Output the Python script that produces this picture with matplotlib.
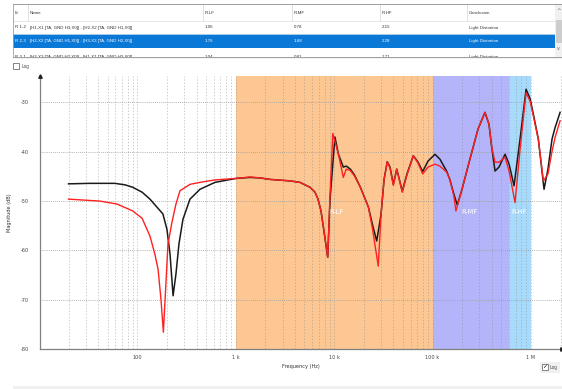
import matplotlib
matplotlib.use("Agg")
import matplotlib.pyplot as plt
from matplotlib.patches import Rectangle
import numpy as np

# ---------------- data ----------------
freq_black = [20, 33, 59, 75, 90, 112, 134.5, 158, 182, 200, 215, 231, 247, 265, 291, 343, 434, 616,
              1007, 1396, 1766, 2233, 3565, 4500, 5690, 6400, 6860, 7360, 7890, 8610, 9100, 10200,
              11070, 12400, 13300, 14600, 16100, 18500, 22300, 24500, 27100, 30000, 32200, 34700,
              37000, 40000, 43300, 49300, 55000, 63800, 71300, 79500, 90000, 106000, 119000, 139000,
              150000, 165000, 178600, 199500, 240000, 290000, 341000, 375000, 400000, 432000, 474000,
              546000, 600000, 674000, 776000, 893000, 984000, 1060000, 1190000, 1360000, 1490000,
              1640000, 1760000, 1980000]
mag_black = [-46.5, -46.4, -46.4, -46.7, -47.2, -48.2, -49.6, -51.2, -52.6, -55.7, -60.7, -69.2, -64.8,
             -58.7, -53.7, -49.6, -47.6, -46.2,
             -45.4, -45.2, -45.3, -45.6, -45.9, -46.2, -47.2, -48.2, -49.6, -52.0, -56.1, -61.4, -49.6,
             -37.0, -40.5, -43.1, -42.9, -43.5, -44.7, -47.2, -51.2, -54.7, -58.1, -52.7, -45.6, -42.0,
             -43.1, -46.6, -43.5, -48.0, -44.5, -40.8, -42.1, -44.0, -41.9, -40.5, -41.5, -43.9,
             -45.6, -48.6, -50.8, -47.6, -41.5, -35.4, -32.0, -34.4, -39.1, -43.9, -43.1,
             -40.5, -42.5, -46.9, -37.4, -27.3, -29.3, -32.4, -37.4, -47.6, -43.5,
             -37.4, -35.1, -32.0]

freq_red = [20, 41.8, 62.2, 90, 112, 134.5, 151, 162.5, 174, 184, 194, 205, 225, 247, 271.5, 343, 434,
            616, 1007, 1396, 1766, 2233, 3565, 4500, 5690, 6400, 6860, 7360, 7890, 8610, 9100, 9700,
            11070, 12400, 13300, 14600, 16100, 18500, 22300, 24500, 28100, 30000, 32200, 34700,
            37000, 40000, 43300, 49300, 55000, 63800, 71300, 79500, 90000, 106000, 119000, 139000,
            150000, 165000, 173000, 199500, 240000, 290000, 341000, 375000, 400000, 432000, 474000,
            546000, 600000, 690000, 776000, 893000, 984000, 1060000, 1190000, 1340000, 1490000,
            1640000, 1760000, 1980000]
mag_red = [-49.6, -50.0, -50.6, -52.0, -53.5, -57.1, -60.8, -63.8, -69.9, -76.6, -67.9, -58.7, -54.3,
           -50.6, -47.9, -46.6, -46.2,
           -45.7, -45.4, -45.1, -45.3, -45.6, -45.9, -46.2, -47.2, -48.2, -49.6, -52.0, -56.1, -61.4,
           -48.5, -36.3,
           -40.5, -45.2, -43.5, -43.8, -44.9, -47.2, -51.2, -55.5, -63.2, -52.7, -45.6, -42.0,
           -43.3, -46.8, -43.5, -48.2, -44.7, -40.8, -42.3, -44.5, -43.1, -42.5, -42.9, -44.1,
           -45.6, -49.0, -52.0, -47.6, -41.5, -35.4, -32.0, -34.4, -39.1, -42.1, -42.1,
           -41.1, -43.9, -50.3, -39.5, -28.0, -29.8, -32.8, -37.5, -45.9, -44.5,
           -39.9, -37.1, -33.7]

bands = [("R-LF", 1e3, 1e5, "#fdc793"), ("R-MF", 1e5, 6e5, "#b4b4fa"), ("R-HF", 6e5, 1e6, "#a8dbfb")]
band_label_freq = [10.5e3, 2.4e5, 7.6e5]

y_ticks = [-30, -40, -50, -60, -70, -80]
x_ticks = [100, 1e3, 1e4, 1e5, 1e6]
x_tick_labels = ["100", "1 k", "10 k", "100 k", "1 M"]

table_header = ["Id", "Name", "R-LF", "R-MF", "R-HF", "Conclusion"]
table_rows = [
    ["R 1-2", "[H1-X1 [TA, GND H3,X0]] - [H2-X2 [TA, GND H1,X0]]", "1.06", "0.78", "2.15", "Light Distortion"],
    ["R 2-3", "[H2-X2 [TA, GND H1,X0]] - [H3-X3 [TA, GND H2,X0]]", "1.76", "1.68", "2.28", "Light Distortion"],
    ["R 3-1", "[H3-X3 [TA, GND H2,X0]] - [H1-X1 [TA, GND H3,X0]]", "1.04", "0.81", "1.71", "Light Distortion"],
]

# ---------------- figure ----------------
W, H = 562, 389
fig = plt.figure(figsize=(W / 100, H / 100), dpi=100)
fig.patch.set_facecolor("white")
UIFONT = ["Liberation Sans", "DejaVu Sans"]

# UI overlay (pixel coords)
ui = fig.add_axes([0, 0, 1, 1])
ui.set_xlim(0, W)
ui.set_ylim(H, 0)
ui.axis("off")
ui.set_zorder(0)
# top "Log" checkbox
ui.add_patch(Rectangle((13, 63), 5.5, 5.5, fc="white", ec="#707070", lw=0.6))
ui.text(21.5, 66, "Log", fontsize=3.3, family=UIFONT, color="#444444", va="center")
# bottom-right "Log" checkbox (checked)
ui.add_patch(Rectangle((540, 361.5), 20, 11, fc="#f0f0f0", ec="none"))
ui.add_patch(Rectangle((542, 364), 5.5, 6, fc="white", ec="#707070", lw=0.6))
ui.text(544.7, 366.8, "\u2713", fontsize=4.5, family=["DejaVu Sans"], color="#222222", ha="center", va="center")
ui.text(549.5, 367, "Log", fontsize=3.3, family=UIFONT, color="#444444", va="center")
# bottom strip
ui.add_patch(Rectangle((13, 385.5), W - 13, 4, fc="#f0f0f0", ec="none"))

# table
tx0, tx1, ty0, ty1 = 13, 562, 4, 57
tab = fig.add_axes([tx0 / W, 1 - ty1 / H, (tx1 - tx0) / W, (ty1 - ty0) / H])
tab.set_xlim(tx0, tx1)
tab.set_ylim(ty1, ty0)
tab.axis("off")
tab.add_patch(Rectangle((13, 4), 542, 53, fc="white", ec="none"))
col_x = [13, 28, 203, 292, 380, 467, 555]
# header separators
for cx in col_x[1:-1]:
    tab.plot([cx, cx], [4, 21], color="#dcdcdc", lw=0.6)
tab.plot([13, 555], [21, 21], color="#e3e3e3", lw=0.6)
tab.plot([13, 555], [34, 34], color="#eeeeee", lw=0.5)
# selected row
tab.add_patch(Rectangle((13, 34), 542, 14, fc="#0a78d7", ec="none"))
# scrollbar
tab.add_patch(Rectangle((555, 4), 7, 53, fc="#f0f0f0", ec="none"))
tab.add_patch(Rectangle((556, 20), 6, 23, fc="#cdcdcd", ec="none"))
tab.text(558.5, 10.5, "^", fontsize=4, color="#606060", ha="center", va="center")
tab.text(558.5, 48, "v", fontsize=3.5, color="#606060", ha="center", va="center")
# frame
tab.plot([13, 562], [4.4, 4.4], color="#8c8c8c", lw=1.2)
tab.plot([13, 13], [4, 57], color="#a0a0a0", lw=0.6)
text_x = [15, 30, 205, 294, 382, 469]
tab_fs = 3.2
for cx, t in zip(text_x, table_header):
    tab.text(cx, 12.8, t, fontsize=tab_fs, family=UIFONT, color="#333333", va="center")
row_y = [27.5, 41, 57.0]
for r, (ry, row) in enumerate(zip(row_y, table_rows)):
    col = "white" if r == 1 else "#333333"
    for cx, t in zip(text_x, row):
        tab.text(cx, ry, t, fontsize=tab_fs, family=UIFONT, color=col, va="center", clip_on=True)
ui.plot([13, 562], [57.3, 57.3], color="#a0a0a0", lw=0.9)

# ---------------- main plot ----------------
ax_l, ax_r, ax_t, ax_b = 40, 562, 76, 349
ax = fig.add_axes([ax_l / W, 1 - ax_b / H, (ax_r - ax_l) / W, (ax_b - ax_t) / H])
ax.set_zorder(1)
ax.set_xscale("log")
xmin = 10 ** (2 + (ax_l - 137.3) / 98.4)
xmax = 10 ** (2 + (ax_r - 137.3) / 98.4)
ax.set_xlim(xmin, xmax)
ymin = -80
ymax = -80 + (ax_b - ax_t) / 4.93
ax.set_ylim(ymin, ymax)

for name, f0, f1, c in bands:
    ax.axvspan(f0, f1, color=c, lw=0, zorder=0)

# grid
minor = []
for dec in [1, 10, 100, 1e3, 1e4, 1e5, 1e6]:
    for k in range(2, 11):
        v = k * dec
        if 15 < v < xmax:
            minor.append(v)
for v in minor:
    ax.axvline(v, color="#8a8a8a", lw=0.5, ls=(0, (2, 2.5)), alpha=0.6, zorder=1)
for yv in y_ticks[:-1]:
    ax.axhline(yv, color="#9a9a9a", lw=0.6, ls=(0, (1, 1.5)), zorder=1)

ax.plot(freq_black, mag_black, color="#1a1a1a", lw=1.1, zorder=3)
ax.plot(freq_red, mag_red, color="#ff2020", lw=1.0, zorder=4)

for (name, f0, f1, c), fx in zip(bands, band_label_freq):
    ax.text(fx, -52.3, name, color="white", fontsize=4.8, ha="center", va="center", zorder=5)

ax.set_yticks(y_ticks)
ax.set_yticklabels([str(v) for v in y_ticks])
ax.set_xticks(x_ticks)
ax.set_xticklabels(x_tick_labels)
ax.xaxis.set_minor_locator(matplotlib.ticker.NullLocator())
ax.tick_params(axis="both", length=0, labelsize=3.6, colors="#444444")
ax.tick_params(axis="y", pad=8)
ax.tick_params(axis="x", pad=4)
ax.set_ylabel("Magnitude (dB)", fontsize=3.6, color="#333333", labelpad=6)
ax.set_xlabel("Frequency (Hz)", fontsize=3.6, color="#333333", labelpad=3)

for s in ["top", "right"]:
    ax.spines[s].set_visible(False)
for s in ["left", "bottom"]:
    ax.spines[s].set_color("#808080")
    ax.spines[s].set_linewidth(0.9)
ax.plot([0], [1], marker="^", ms=2.5, color="#222222", transform=ax.transAxes, clip_on=False, zorder=6)
ax.plot([1], [0], marker=">", ms=2.5, color="#222222", transform=ax.transAxes, clip_on=False, zorder=6)

fig.savefig("out.png", dpi=100)
